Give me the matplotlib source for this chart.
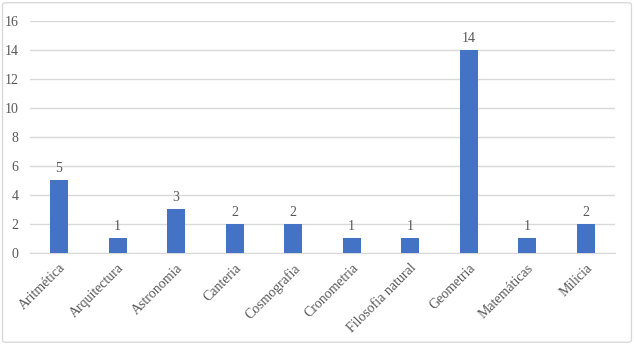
import matplotlib.pyplot as plt
from matplotlib.patches import FancyBboxPatch

materias = ['Aritmética', 'Arquitectura', 'Astronomia', 'Canteria', 'Cosmografia',
            'Cronometria', 'Filosofia natural', 'Geometria', 'Matemáticas', 'Milicia']
valores = [5, 1, 3, 2, 2, 1, 1, 14, 1, 2]
yticks = [0, 2, 4, 6, 8, 10, 12, 14, 16]

plt.rcParams['font.family'] = ['Liberation Serif', 'DejaVu Serif']
cinza = '#595959'

fig = plt.figure(figsize=(6.34, 3.45), dpi=100)
ax = fig.add_axes([0.047, 0.267, 0.923, 0.672])

x = range(len(materias))
ax.bar(x, valores, width=0.31, color='#4472C4', zorder=3)
for i, v in zip(x, valores):
    ax.text(i, v + 0.35, str(v), ha='center', va='bottom', fontsize=10, color=cinza)

ax.set_xlim(-0.5, len(materias) - 0.5)
ax.set_ylim(0, 16)
ax.set_yticks(yticks)
ax.set_xticks(list(x))
ax.set_xticklabels(materias, rotation=45, ha='right', va='top',
                   rotation_mode='anchor', fontsize=10, color=cinza)
ax.tick_params(axis='y', length=0, labelsize=10, labelcolor=cinza, pad=8)
ax.tick_params(axis='x', length=0, pad=6)
ax.grid(axis='y', color='#D9D9D9', linewidth=1, zorder=0)
for s in ['top', 'right', 'left']:
    ax.spines[s].set_visible(False)
ax.spines['bottom'].set_color('#D9D9D9')

borda = FancyBboxPatch((0.004, 0.008), 0.992, 0.984, boxstyle='round,pad=0,rounding_size=0.006',
                       transform=fig.transFigure, facecolor='none', edgecolor='#D9D9D9',
                       linewidth=1)
fig.patches.append(borda)

fig.savefig('out.png', dpi=100)
